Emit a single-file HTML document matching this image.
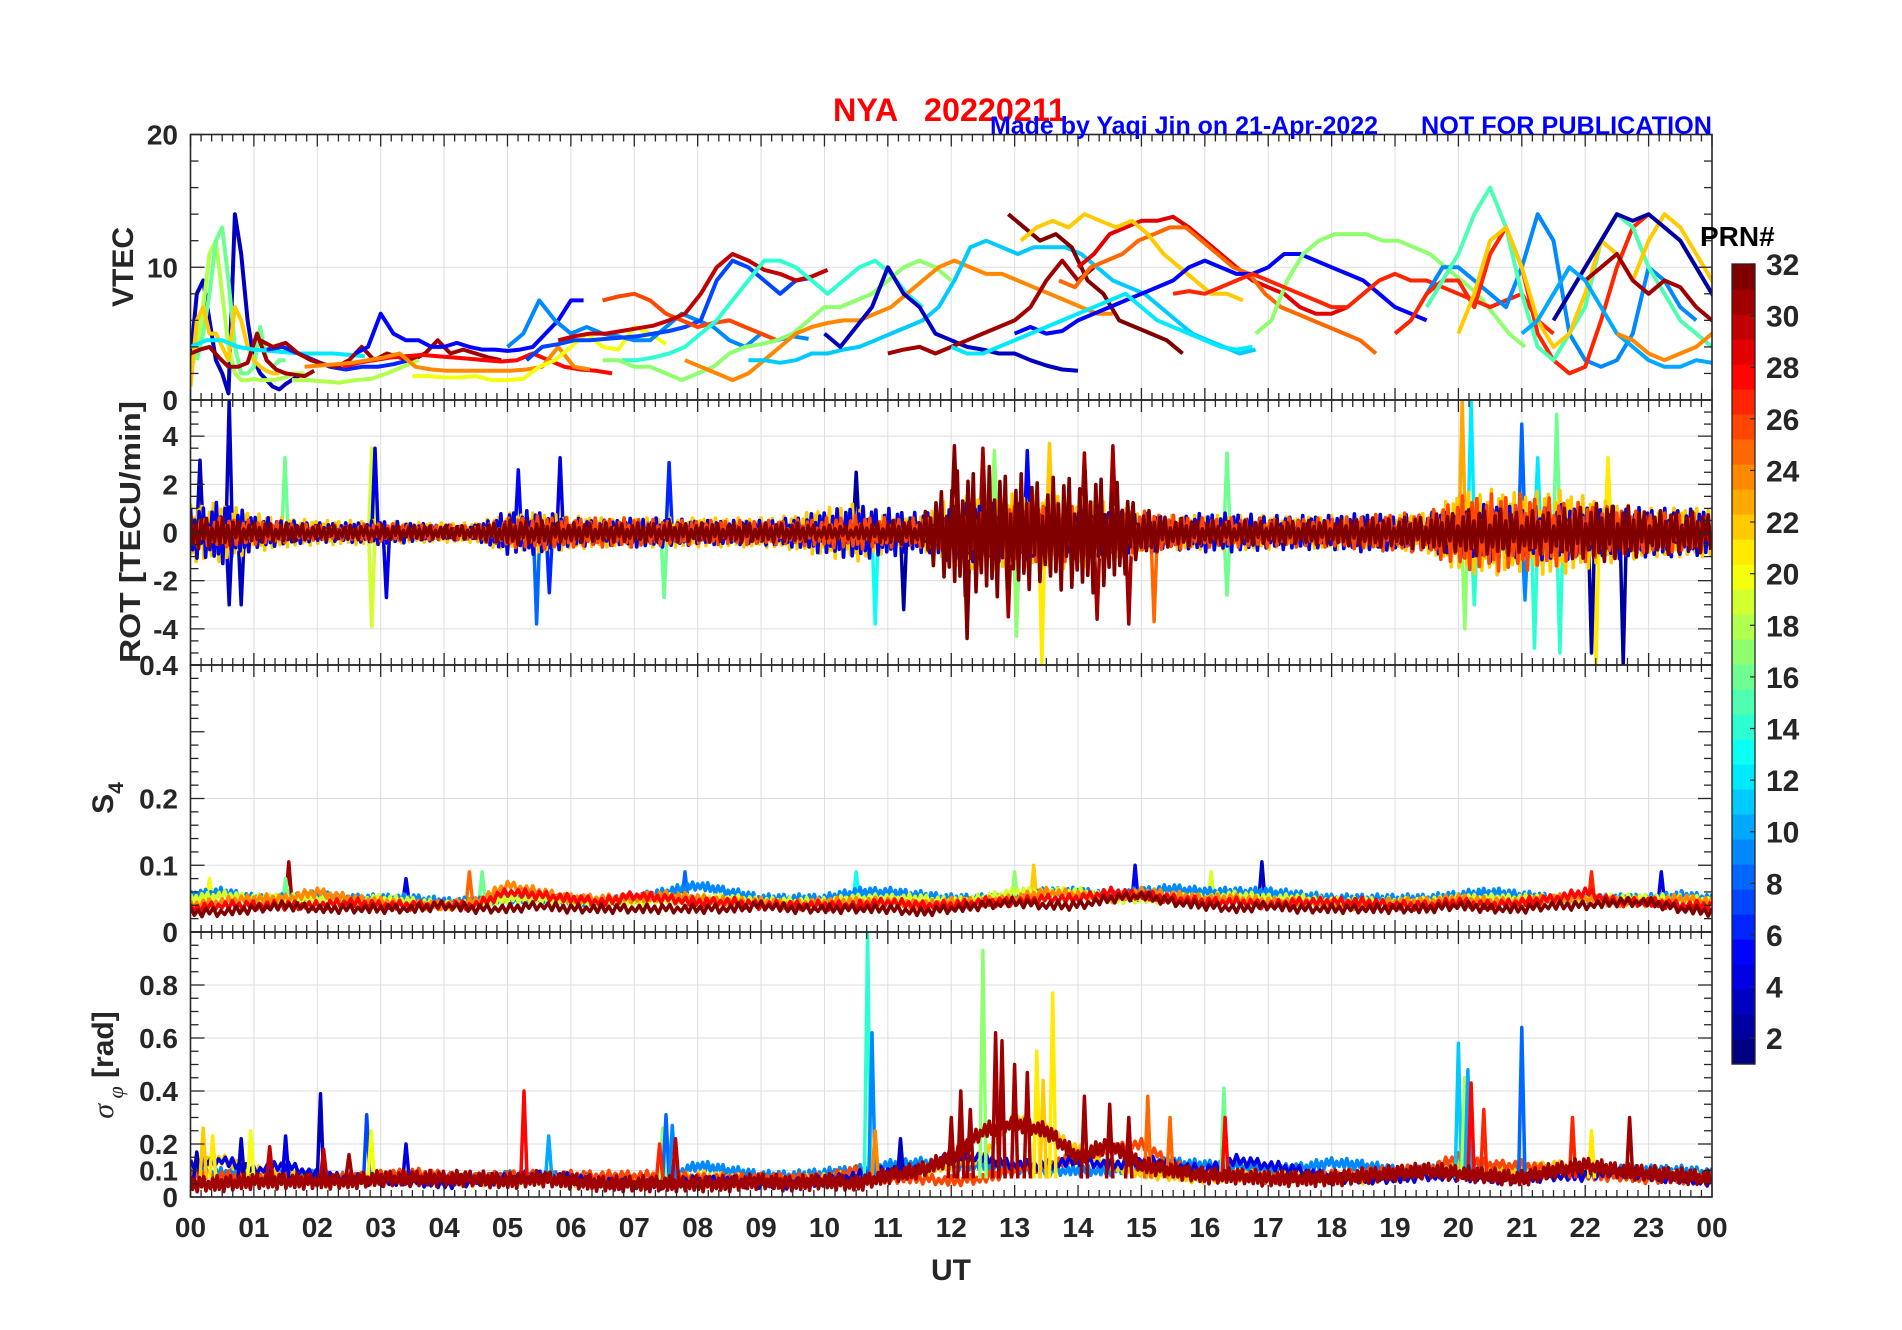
<!DOCTYPE html>
<html><head><meta charset="utf-8"><title>NYA 20220211</title>
<style>html,body{margin:0;padding:0;background:#fff;}svg{display:block;font-family:"Liberation Sans",sans-serif;}</style>
</head><body>
<svg id="fig" xmlns="http://www.w3.org/2000/svg" width="1902" height="1330" viewBox="0 0 1902 1330">
<rect x="0" y="0" width="1902" height="1330" fill="#fff"/>
<g id="grid"></g>
<g id="data"></g>
<g id="axes"></g>
<g id="cbar"></g>
<text x="833" y="121" fill="#ff0000" font-size="32" font-weight="bold" textLength="233" lengthAdjust="spacingAndGlyphs" xml:space="preserve">NYA   20220211</text>
<text x="990" y="134" fill="#0000ff" font-size="25" font-weight="bold" textLength="388" lengthAdjust="spacingAndGlyphs">Made by Yaqi Jin on 21-Apr-2022</text>
<text x="1421" y="134" fill="#0000ff" font-size="25" font-weight="bold" textLength="291" lengthAdjust="spacingAndGlyphs">NOT FOR PUBLICATION</text>
<text x="1700" y="246" fill="#000" font-size="28" font-weight="bold">PRN#</text>
<text x="951" y="1280" fill="#262626" font-size="30" font-weight="bold" text-anchor="middle">UT</text>
<text transform="translate(133,267) rotate(-90)" fill="#262626" font-size="30" font-weight="bold" text-anchor="middle">VTEC</text>
<text transform="translate(140,532) rotate(-90)" fill="#262626" font-size="29" font-weight="bold" text-anchor="middle" textLength="262" lengthAdjust="spacingAndGlyphs">ROT [TECU/min]</text>
<text transform="translate(113,798) rotate(-90)" fill="#262626" font-size="30" font-weight="bold" text-anchor="middle">S<tspan font-size="21" dy="10">4</tspan></text>
<text transform="translate(113,1065) rotate(-90)" fill="#262626" font-size="30" font-weight="bold" text-anchor="middle"><tspan font-style="italic" font-weight="normal" font-family="Liberation Serif, serif">σ</tspan><tspan font-style="italic" font-weight="normal" font-size="22" dy="10" font-family="Liberation Serif, serif"> φ</tspan><tspan dy="-10"> [rad]</tspan></text>
</svg>
<script>
// ---------- data ----------
const hourLabels = ["00","01","02","03","04","05","06","07","08","09","10","11","12","13","14","15","16","17","18","19","20","21","22","23","00"];
const vtecTicks = [0,10,20];
const rotTicks = [-4,-2,0,2,4];
const s4Ticks = [0,0.1,0.2,0.4];
const sigTicks = [0,0.1,0.2,0.4,0.6,0.8];
const cbarTicks = [2,4,6,8,10,12,14,16,18,20,22,24,26,28,30,32];

// VTEC arcs: PRN, start hour, step hour, values
const vtecPrn   = [3,18,16,22,31,12,6,31,18,5,28,24,20,9,7,26,30,14,17,24,11,3,31,32,29,25,22,5,17,12,27,9,27,15,22,2,31,10,24];
const vtecStart = [0,0,0.1,0,0,0,1.2,1.1,1.6,2.6,2.4,1.8,3.5,5.0,5.3,6.5,5.8,6.8,6.5,7.8,8.8,10.0,11.0,12.9,14.0,13.7,13.1,13.0,16.8,12.0,15.5,19.5,19.0,19.5,20.0,21.5,22.0,21.0,22.5];
const vtecStep  = [0.1,0.1,0.1,0.1,0.15,0.25,0.25,0.2,0.25,0.2,0.25,0.25,0.25,0.25,0.25,0.25,0.25,0.25,0.25,0.25,0.25,0.25,0.25,0.25,0.25,0.25,0.25,0.25,0.25,0.25,0.25,0.25,0.25,0.25,0.25,0.25,0.25,0.25,0.25];
const vtecValues = [
 [3,8,9,6,3,2,0.5,14,11,6,3,2,1.5,1,0.8,1.2,1.5,1.8,2],
 [2,4,7,11,12,8,4,2,1.5,1.5,1.6,1.5,1.5,1.5,1.6,1.7,2,2,2],
 [3,5,8,12,13,9,4,2,2,2.5,5.5,3,2.5,3,3],
 [1,6,7,5,5,4,3,7,6,4,3,2.5,2.2,2,2],
 [3.5,3.8,4,3.2,2.5,2.5,2.8,5,3,2.3,2,1.9,1.8,2.2],
 [4,4.5,4.5,4,3.8,3.7,3.6,3.5,3.5,3.5,3.4,3.3],
 [3.8,4,3.5,3,2.5,2.3,2.5,2.5,2.7,3,3.5],
 [4.5,4,4.3,3.5,3,2.7,2.5,3,4,3,3.5,3.2,3,3.5,4.5,3.5,3.8,3.5,3.2,3],
 [1.5,1.5,1.4,1.3,1.5,1.6,2,2.5,3],
 [3.5,4,6.5,5,4.5,4.5,4,4,4.3,4,3.8,3.8,3.7,3.8,4,5,6,7.5,7.5],
 [2.5,2.8,3,3.2,3.3,3.4,3.3,3.2,3.1,3,2.9,3,3.5,3,2.5,2.3,2.2,2],
 [2.5,2.6,2.7,2.8,3,3.2,3.5,2.5,2.3,2.2,2.2,2.2,2.2,2.2,2.3,2.5,4,2.5,2.3],
 [1.8,1.8,1.7,1.7,1.8,1.5,1.5,1.6,2.5,3,4,5,4,3.8,5.5,5,4.2],
 [4,5,7.5,6,5,5.5,5,4.8,4.5,4.5,5.5,6.5,6,5.5,4.5,4,5,4.5,4.8,4.6],
 [3,4,4.2,4.5,4.5,4.6,4.7,4.8,5,5.2,5.5,6,9,10.5,10,9,8,9,9.2],
 [7.5,7.8,8,7.5,6.5,6,5.5,5.8,6,5.5,5,4.5],
 [4.5,4.8,5,5,5.2,5.4,5.6,6,6.5,8,10,11,10.5,9.8,9.5,9,9.3,9.8],
 [3,3,3.2,3.5,4,5,6,7.5,9,10.5,10.5,10,9,8,9,10,10.5,9.5,8,7],
 [3,3,2.5,2.5,2,1.5,2,2.5,3.5,4,4.2,4.5,5,6,7,7,7.5,8,9,10,10.5,10,9],
 [3,2.5,2,1.5,2,3,4,5,5.5,5.8,6,6,6.5,7,8,9,10,10.5,10,9.5,9.5,9,8.5,8,7.5,7,6.5,6.5],
 [3,3,2.8,3,3.5,3.5,3.8,4,4.5,5,5.5,6,7,9,11.5,12,11.5,11,11.5,11.5,11.5,11,10,9,8.5,8,7,6,5,4.5,4,3.5,3.8],
 [5,4,5.5,7,10,8,7,5,4.5,4,3.8,3.5,3.5,3,2.6,2.3,2.2],
 [3.5,3.8,4,3.5,4,4.5,5,5.5,6,7,9,10.5,9,10],
 [14,13,12,12.5,11.5,9,8,6,5.5,5,4.5,3.5],
 [10,11,12.5,13,13.5,13.5,13.8,13,12,11,10,9,8.5,8,7,6.5,6.5,7],
 [9,8.5,10,10.5,11,12,12.5,13,13,12,11,10,9.5,8,7,6.5,6,5.5,5,4.5,3.5],
 [12,13,13.5,13,14,13.5,13,13.5,12.5,11,10,9,8,8,7.5],
 [5,5.5,5,5.2,6,6.5,7,7.5,8,8.5,9,10,10.5,10,9.5,9.5,10,11,11,10.5,10,9.5,9,8,7,6.5,6],
 [5,6,9,11,12,12.5,12.5,12.5,12,12,11.5,11,10,9,8,6.5,5,4],
 [4,3.5,3.5,4,4.5,5,5.5,6,6.5,7,7.5,8,7,6,5.5,5,4.5,4,3.8,4],
 [8,8.2,8,8.5,9,9.5,9,8.5,8,7.5,7,7,8,9,9.5,9,9,8.5,8,7.5,7,7.5,8,6,5],
 [8,10,10,9,8,7,10,14,12,5,3,2.5,3,5,10,9,7,6],
 [5,6,8,9,9,7,11,13,10,5,3,2,2.5,6,10,13,14],
 [7,9,11,14,16,13,8,4,3,5,7,12,14,13,10,8,6,5,4],
 [5,8,12,13,10,6,4,5,8,12,11,9,12,14,13,11,9,7,5,4,3.5,3],
 [6,8,10,12,14,13.5,14,13,12,10,8,6,4,3,2.5],
 [9,10,11,9,8,9,8.5,7,6,5,4,3,2,1.8],
 [5,6,8,10,9,7,5,4,3,2.5,2.5,3,2.8,2.5,2.6,2.8],
 [5,4.5,3.5,3,3.5,4,5,6,6.5,7]
];

// ROT noise-band amplitude (TECU/min), every 0.5 h
const rotBandPrn = [22,4,26,32];
const rotAmpGold = [1.2,1.2,0.8,0.6,0.5,0.5,0.5,0.4,0.4,0.4,0.8,0.8,0.7,0.6,0.6,0.6,0.6,0.6,0.6,0.7,1.0,1.2,0.8,0.6,1.5,1.5,1.6,1.5,1.5,1.2,0.8,0.7,0.7,0.7,0.7,0.6,0.7,0.7,0.7,0.8,1.6,1.8,1.6,1.8,1.5,1.2,1.0,1.0,1.0];
const rotAmpBlue = [1.0,1.3,0.7,0.5,0.4,0.4,0.5,0.4,0.3,0.3,0.9,0.9,0.6,0.5,0.6,0.6,0.5,0.5,0.5,0.6,0.9,1.1,1.0,0.8,1.2,1.2,1.2,1.0,1.0,0.9,0.8,0.7,0.8,0.8,0.7,0.7,0.7,0.8,0.7,0.8,1.0,1.2,1.0,1.2,1.0,1.1,1.0,1.0,0.9];
const rotAmpRed  = [0.6,0.6,0.5,0.4,0.3,0.3,0.4,0.3,0.3,0.3,0.6,0.7,0.6,0.6,0.6,0.5,0.5,0.5,0.5,0.5,0.6,0.7,0.6,0.6,0.8,1.0,1.2,1.2,1.2,1.0,0.9,0.7,0.6,0.6,0.6,0.6,0.6,0.7,0.8,0.8,1.5,1.6,1.6,1.4,1.2,1.0,0.8,0.8,0.8];
const rotAmpDark = [0.7,0.6,0.4,0.4,0.3,0.3,0.3,0.3,0.3,0.3,0.5,0.5,0.4,0.4,0.4,0.4,0.4,0.4,0.4,0.4,0.3,0.3,0.5,0.5,2.5,2.8,2.5,2.2,2.6,2.4,1.0,0.6,0.5,0.5,0.5,0.5,0.5,0.6,0.6,0.7,0.9,1.0,0.9,0.9,1.2,1.2,0.9,0.9,0.8];
// ROT spikes
const rotSpikeHour = [0.61,0.61,0.15,0.8,1.49,2.86,2.86,2.91,3.09,5.17,5.46,5.83,5.66,7.55,7.47,10.5,10.8,11.25,12.05,12.25,12.68,13.03,13.43,13.55,13.2,14.55,14.3,15.2,16.35,16.35,20.06,20.1,20.2,20.25,21.0,21.05,21.2,21.25,21.55,21.6,22.17,22.6,22.36,22.1,12.5,12.9,14.1,14.8];
const rotSpikeVal  = [5.5,-3,3,-3,3.1,-3.9,3.5,3.5,-2.7,2.6,-3.8,3.1,-2.5,2.9,-2.7,2.5,-3.8,-3.2,3.6,-4.4,3.4,-4.3,-5.4,3.7,3.4,3.6,-3.6,-3.7,3.3,-2.6,5.5,-4.0,5.5,-3.0,4.5,-2.8,-4.8,3.1,4.9,-5.0,-5.5,-5.5,3.1,-5,3.5,-3.5,3.3,-3.8];
const rotSpikePrn  = [3,3,3,3,16,19,19,4,4,5,8,4,6,6,16,2,13,2,32,32,17,17,21,22,5,31,31,25,16,16,23,17,12,14,8,9,14,12,16,14,21,2,21,2,31,31,31,31];

// S4 bands, every 0.5 h
const s4BandPrn = [9,19,24,28,32];
const s4Blue   = [0.055,0.06,0.05,0.05,0.055,0.05,0.05,0.05,0.045,0.045,0.05,0.05,0.045,0.045,0.05,0.06,0.07,0.06,0.05,0.05,0.05,0.06,0.06,0.055,0.05,0.05,0.05,0.06,0.06,0.055,0.06,0.065,0.06,0.06,0.06,0.055,0.05,0.05,0.05,0.05,0.055,0.06,0.055,0.05,0.05,0.05,0.05,0.055,0.05];
const s4Yellow = [0.05,0.055,0.05,0.05,0.05,0.045,0.05,0.045,0.04,0.04,0.05,0.05,0.045,0.045,0.045,0.05,0.05,0.05,0.045,0.045,0.045,0.05,0.05,0.05,0.045,0.05,0.06,0.06,0.06,0.05,0.05,0.05,0.05,0.055,0.05,0.05,0.045,0.045,0.045,0.045,0.05,0.05,0.05,0.05,0.05,0.05,0.05,0.05,0.045];
const s4Orange = [0.04,0.045,0.05,0.05,0.06,0.05,0.045,0.04,0.04,0.045,0.07,0.06,0.05,0.05,0.05,0.055,0.05,0.045,0.045,0.04,0.045,0.045,0.045,0.04,0.045,0.045,0.05,0.06,0.055,0.05,0.06,0.055,0.05,0.05,0.045,0.045,0.04,0.04,0.045,0.045,0.05,0.045,0.045,0.05,0.05,0.045,0.045,0.05,0.045];
const s4Red    = [0.035,0.04,0.04,0.04,0.04,0.045,0.04,0.04,0.04,0.04,0.06,0.055,0.05,0.045,0.055,0.05,0.045,0.045,0.04,0.04,0.04,0.04,0.045,0.04,0.04,0.045,0.045,0.05,0.05,0.06,0.055,0.05,0.045,0.045,0.04,0.045,0.045,0.045,0.04,0.04,0.045,0.04,0.045,0.05,0.06,0.045,0.045,0.04,0.04];
const s4Dark   = [0.03,0.03,0.035,0.04,0.035,0.035,0.035,0.035,0.04,0.035,0.035,0.04,0.035,0.035,0.035,0.035,0.035,0.035,0.04,0.035,0.035,0.035,0.035,0.03,0.035,0.04,0.045,0.04,0.04,0.05,0.055,0.045,0.04,0.035,0.04,0.035,0.035,0.035,0.035,0.035,0.04,0.035,0.035,0.04,0.04,0.045,0.045,0.035,0.03];
const s4SpikeHour = [1.55,0.3,4.4,4.6,7.8,10.5,13.3,14.9,16.9,22.1,23.2,3.4,1.5,13.0,16.1];
const s4SpikeVal  = [0.105,0.08,0.09,0.09,0.09,0.09,0.1,0.1,0.105,0.09,0.09,0.08,0.08,0.09,0.09];
const s4SpikePrn  = [31,20,25,16,8,13,22,5,3,27,4,4,16,17,19];

// sigma-phi bands, every 0.5 h
const sigBandPrn = [9,22,26,4,31];
const sigLightBlue = [0.1,0.09,0.08,0.08,0.08,0.07,0.07,0.07,0.07,0.07,0.08,0.08,0.07,0.07,0.06,0.07,0.12,0.1,0.08,0.08,0.09,0.1,0.12,0.13,0.12,0.12,0.11,0.1,0.1,0.1,0.12,0.13,0.12,0.12,0.1,0.11,0.13,0.12,0.1,0.1,0.13,0.11,0.1,0.1,0.1,0.1,0.1,0.1,0.09];
const sigGold      = [0.12,0.14,0.1,0.08,0.07,0.07,0.06,0.07,0.06,0.06,0.06,0.07,0.06,0.06,0.06,0.06,0.08,0.07,0.06,0.06,0.07,0.08,0.08,0.1,0.12,0.15,0.3,0.25,0.18,0.12,0.09,0.08,0.07,0.08,0.08,0.08,0.07,0.07,0.08,0.09,0.12,0.1,0.1,0.12,0.1,0.09,0.08,0.08,0.07];
const sigOrange    = [0.08,0.08,0.07,0.07,0.07,0.07,0.08,0.09,0.08,0.07,0.08,0.08,0.08,0.08,0.08,0.08,0.07,0.07,0.07,0.07,0.07,0.1,0.07,0.07,0.06,0.07,0.1,0.12,0.15,0.18,0.2,0.12,0.08,0.08,0.07,0.07,0.08,0.09,0.1,0.1,0.15,0.12,0.12,0.1,0.08,0.08,0.07,0.07,0.07];
const sigBlue      = [0.12,0.14,0.1,0.12,0.08,0.07,0.06,0.06,0.05,0.06,0.07,0.08,0.07,0.05,0.05,0.05,0.06,0.06,0.05,0.05,0.06,0.08,0.1,0.1,0.15,0.15,0.12,0.12,0.14,0.12,0.14,0.12,0.1,0.14,0.12,0.1,0.07,0.07,0.07,0.08,0.08,0.07,0.07,0.08,0.08,0.1,0.08,0.07,0.06];
const sigDark      = [0.05,0.05,0.06,0.06,0.06,0.06,0.07,0.07,0.07,0.07,0.06,0.07,0.06,0.05,0.05,0.05,0.05,0.05,0.06,0.05,0.06,0.05,0.08,0.1,0.15,0.25,0.28,0.25,0.15,0.2,0.12,0.1,0.08,0.08,0.07,0.07,0.07,0.08,0.09,0.1,0.09,0.08,0.07,0.1,0.12,0.1,0.09,0.08,0.07];
const sigSpikeHour = [0.1,0.2,0.35,0.8,0.95,1.25,1.5,2.05,2.1,2.5,2.78,2.85,3.4,5.26,5.65,7.45,7.5,7.6,7.4,7.65,10.68,10.75,10.8,11.2,12.3,12.5,12.7,12.8,13.35,13.6,13.45,14.1,14.5,15.1,15.45,16.3,16.32,20.0,20.1,20.15,20.2,20.4,21.0,21.8,22.1,22.7,13.2,12.15,12.0,13.0,14.8];
const sigSpikeVal  = [0.17,0.26,0.23,0.22,0.25,0.19,0.23,0.39,0.18,0.16,0.31,0.25,0.2,0.4,0.23,0.26,0.31,0.27,0.2,0.22,1.0,0.62,0.25,0.22,0.33,0.93,0.62,0.59,0.55,0.77,0.44,0.38,0.35,0.38,0.3,0.41,0.3,0.58,0.45,0.48,0.43,0.33,0.64,0.3,0.25,0.3,0.47,0.4,0.3,0.5,0.3];
const sigSpikePrn  = [3,22,21,3,20,30,4,3,30,31,7,20,4,28,10,17,8,9,27,30,14,9,24,3,31,17,31,31,21,21,22,31,31,25,25,16,28,11,18,10,28,27,8,27,21,31,31,31,31,31,31];

// ---------- geometry ----------
const NS = "http://www.w3.org/2000/svg";
const X0 = 190.5, X1 = 1712;
const P = { vtec:[134.5,400,0,20], rot:[400,665,-5.5,5.5], s4:[665,932,0,0.4], sig:[932,1197,0,1.0] };
const xs = h => X0 + h/24*(X1-X0);
const ys = (p,v) => { const [t,b,lo,hi]=P[p]; const vv=Math.max(lo,Math.min(hi,v)); return b-(vv-lo)/(hi-lo)*(b-t); };
const jet = prn => { const k=(prn-1)/31; const c=x=>Math.round(255*Math.max(0,Math.min(1,1.5-Math.abs(x)))); return `rgb(${c(4*k-3)},${c(4*k-2)},${c(4*k-1)})`; };
const JIT = [1,-0.7,0.5,-1,0.8,-0.4,0.9,-0.9,0.3,-0.6,0.7,-0.8];
const gGrid=document.getElementById('grid'), gData=document.getElementById('data'), gAxes=document.getElementById('axes'), gCbar=document.getElementById('cbar');
function mk(tag, attrs, parent){ const e=document.createElementNS(NS,tag); for(const k in attrs) e.setAttribute(k,attrs[k]); parent.appendChild(e); return e; }
function interp(arr, h){ const i=h/0.5; const a=Math.floor(i); const f=i-a; const v0=arr[Math.min(a,arr.length-1)], v1=arr[Math.min(a+1,arr.length-1)]; return v0+(v1-v0)*f; }

// ---------- clip per panel ----------
const defs = mk('defs',{},document.getElementById('fig'));
for (const p in P){ const cp=mk('clipPath',{id:'clip-'+p},defs); mk('rect',{x:X0,y:P[p][0],width:X1-X0,height:P[p][1]-P[p][0]},cp); }

// ---------- grid ----------
for (let h=1; h<24; h++){
  for (const p in P){
    const l = mk('line',{x1:xs(h),x2:xs(h),y1:P[p][0],y2:P[p][1],stroke:'#dedede','stroke-width':1},gGrid);
    
    
  }
}
const gridVals = { vtec:[10], rot:[-4,-2,0,2,4], s4:[0.1,0.2], sig:[0.1,0.2,0.4,0.6,0.8] };
for (const p in gridVals) for (const v of gridVals[p]){
  const l = mk('line',{x1:X0,x2:X1,y1:ys(p,v),y2:ys(p,v),stroke:'#dedede','stroke-width':1},gGrid);
  
  
}

// ---------- VTEC ----------
const gV = mk('g',{'clip-path':'url(#clip-vtec)'},gData);


vtecValues.forEach((vals,i)=>{
  const pts = vals.map((v,j)=>`${xs(vtecStart[i]+j*vtecStep[i]).toFixed(1)},${ys('vtec',v).toFixed(1)}`).join(' ');
  const pl = mk('polyline',{points:pts,fill:'none',stroke:jet(vtecPrn[i]),'stroke-width':4,'stroke-linejoin':'round'},gV);
  
  
});

// ---------- band helper ----------
function band(panel, g, arr, prn, center, scale, step, name){
  const pts=[]; let k=0;
  for (let h=0; h<=24.0001; h+=step, k++){
    const a = interp(arr,h);
    const v = center===null ? a + JIT[k%JIT.length]*scale : JIT[k%JIT.length]*a;
    pts.push(`${xs(h).toFixed(1)},${ys(panel,v).toFixed(1)}`);
  }
  const pl = mk('polyline',{points:pts.join(' '),fill:'none',stroke:jet(prn),'stroke-width':3.6,'stroke-linejoin':'round'},g);
  
  
}
function spikes(panel, g, hours, vals, prns, base, name){
  hours.forEach((h,i)=>{
    const d = `M${xs(h-0.05).toFixed(1)},${ys(panel,base).toFixed(1)} L${xs(h).toFixed(1)},${ys(panel,vals[i]).toFixed(1)} L${xs(h+0.05).toFixed(1)},${ys(panel,base).toFixed(1)}`;
    const pa = mk('path',{d:d,fill:'none',stroke:jet(prns[i]),'stroke-width':3.5,'stroke-linejoin':'round'},g);
    
    
  });
}

// ---------- ROT ----------
const gR = mk('g',{'clip-path':'url(#clip-rot)'},gData);


spikes('rot', gR, rotSpikeHour, rotSpikeVal, rotSpikePrn, 0, 'rot-spike');
[rotAmpGold,rotAmpBlue,rotAmpRed,rotAmpDark].forEach((arr,i)=> band('rot', gR, arr, rotBandPrn[i], 0, 0, 0.03+0.004*i, 'rot-band-prn'+rotBandPrn[i]));

// ---------- S4 ----------
const gS = mk('g',{'clip-path':'url(#clip-s4)'},gData);


spikes('s4', gS, s4SpikeHour, s4SpikeVal, s4SpikePrn, 0.045, 's4-spike');
[s4Blue,s4Yellow,s4Orange,s4Red,s4Dark].forEach((arr,i)=> band('s4', gS, arr, s4BandPrn[i], null, 0.007, 0.04+0.005*i, 's4-band-prn'+s4BandPrn[i]));

// ---------- sigma phi ----------
const gP = mk('g',{'clip-path':'url(#clip-sig)'},gData);


[sigLightBlue,sigGold,sigOrange,sigBlue].forEach((arr,i)=> band('sig', gP, arr, sigBandPrn[i], null, 0.02, 0.04+0.005*i, 'sigma-band-prn'+sigBandPrn[i]));
spikes('sig', gP, sigSpikeHour, sigSpikeVal, sigSpikePrn, 0.07, 'sigma-spike');
band('sig', gP, sigDark, sigBandPrn[4], null, 0.03, 0.035, 'sigma-band-prn'+sigBandPrn[4]);

// ---------- axes ----------
const AX = '#262626';
for (const p in P){
  const [t,b] = P[p];
  const r = mk('rect',{x:X0,y:t,width:X1-X0,height:b-t,fill:'none',stroke:AX,'stroke-width':1.6},gAxes);
  
  
  for (let m=0; m<=144; m++){
    const len = (m%6===0)?12:7, x=xs(m/6);
    const t1 = mk('line',{x1:x,x2:x,y1:t,y2:t+len,stroke:AX,'stroke-width':1.3},gAxes);
    
    
    const t2 = mk('line',{x1:x,x2:x,y1:b,y2:b-len,stroke:AX,'stroke-width':1.3},gAxes);
    
    
  }
}
const yMinor = { vtec:[0,20,2,10], rot:[-5.5,5.5,0.5,2], s4:[0,0.4,0.02,0.1], sig:[0,1.0,0.05,0.2] };
for (const p in yMinor){
  const [lo,hi,st,maj]=yMinor[p];
  for (let v=lo; v<=hi+1e-9; v+=st){
    const y=ys(p,v); const isMaj=Math.abs(v/maj-Math.round(v/maj))<1e-6; const len=isMaj?14:8;
    const a=mk('line',{x1:X0,x2:X0+len,y1:y,y2:y,stroke:AX,'stroke-width':1.3},gAxes);
    
    
    const c=mk('line',{x1:X1,x2:X1-len,y1:y,y2:y,stroke:AX,'stroke-width':1.3},gAxes);
    
    
  }
}
function yLabels(p, vals, fmt){
  vals.forEach(v=>{
    const tx = mk('text',{x:178,y:(ys(p,v)+10).toFixed(1),'text-anchor':'end','font-size':28,'font-weight':'bold',fill:AX},gAxes);
    tx.textContent = fmt(v);
    
    
  });
}
yLabels('vtec', vtecTicks, v=>String(v));
yLabels('rot', rotTicks, v=>String(v));
yLabels('s4', s4Ticks, v=>String(v));
yLabels('sig', sigTicks, v=>String(v));
hourLabels.forEach((lab,i)=>{
  const tx = mk('text',{x:xs(i).toFixed(1),y:1237,'text-anchor':'middle','font-size':28,'font-weight':'bold',fill:AX},gAxes);
  tx.textContent = lab;
  
  
});

// ---------- colorbar ----------
const CB = [1732,1755,264,1064];
const cy = v => CB[3] - (v-1)/31*(CB[3]-CB[2]);
for (let k=1; k<=32; k++){
  const y0 = CB[3] - (k/32)*(CB[3]-CB[2]);
  const r = mk('rect',{x:CB[0],y:y0.toFixed(2),width:CB[1]-CB[0],height:((CB[3]-CB[2])/32+0.6).toFixed(2),fill:jet(k)},gCbar);
  
  
}
const cbBox = mk('rect',{x:CB[0],y:CB[2],width:CB[1]-CB[0],height:CB[3]-CB[2],fill:'none',stroke:AX,'stroke-width':1.3},gCbar);


cbarTicks.forEach(v=>{
  const y=cy(v);
  const t=mk('line',{x1:CB[1]-5,x2:CB[1],y1:y,y2:y,stroke:AX,'stroke-width':1.2},gCbar);
  
  
  const tx=mk('text',{x:1766,y:(y+11).toFixed(1),'font-size':30,'font-weight':'bold',fill:AX},gCbar);
  tx.textContent=String(v);
  
  
});
</script>
</body></html>
